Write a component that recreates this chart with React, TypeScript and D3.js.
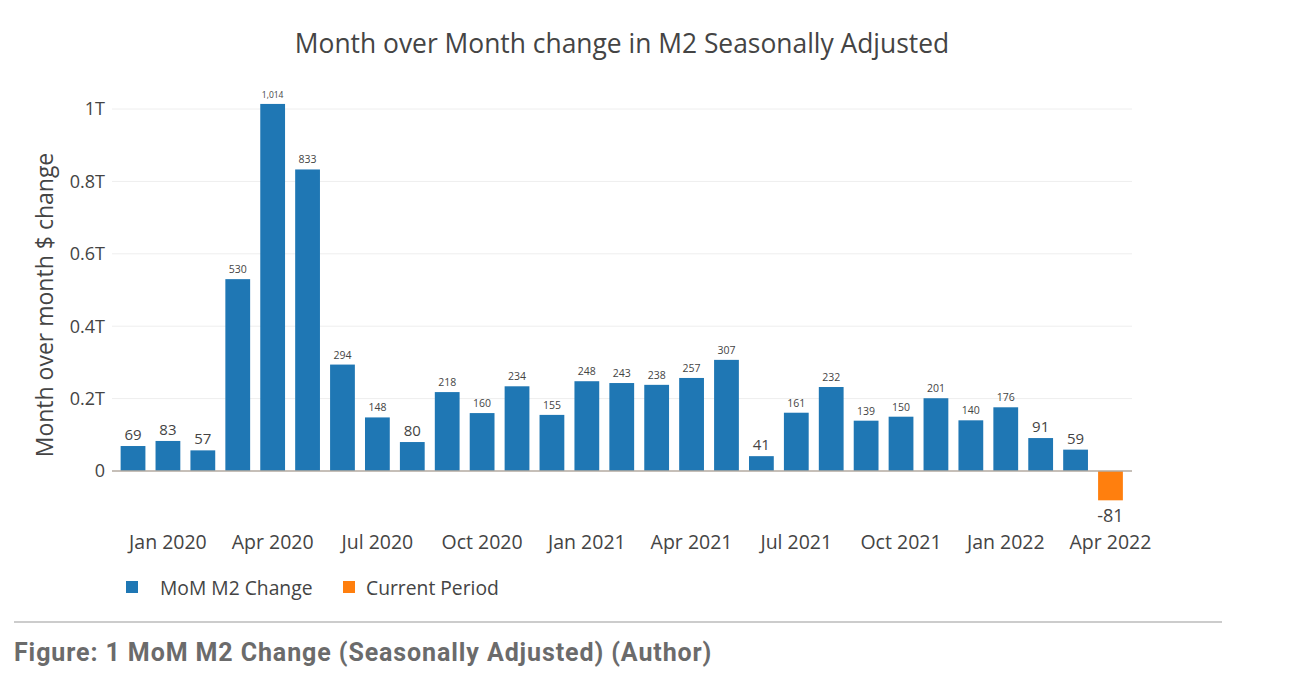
import * as React from 'react';
import * as d3 from 'd3';

// month-over-month change in M2, billions of dollars
const months = [
  '2019-12', '2020-01', '2020-02', '2020-03', '2020-04', '2020-05', '2020-06',
  '2020-07', '2020-08', '2020-09', '2020-10', '2020-11', '2020-12', '2021-01',
  '2021-02', '2021-03', '2021-04', '2021-05', '2021-06', '2021-07', '2021-08',
  '2021-09', '2021-10', '2021-11', '2021-12', '2022-01', '2022-02', '2022-03',
  '2022-04'
];
const momChange = [
  69, 83, 57, 530, 1014, 833, 294, 148, 80, 218, 160, 234, 155, 248, 243, 238,
  257, 307, 41, 161, 232, 139, 150, 201, 140, 176, 91, 59, -81
];
const currentPeriod = ['2022-04'];
const yTicks = [0, 200, 400, 600, 800, 1000];
const yTickLabels = ['0', '0.2T', '0.4T', '0.6T', '0.8T', '1T'];
const xTickMonths = [
  '2020-01', '2020-04', '2020-07', '2020-10', '2021-01', '2021-04',
  '2021-07', '2021-10', '2022-01', '2022-04'
];
const seriesNames = ['MoM M2 Change', 'Current Period'];

const BLUE = '#1f77b4';
const ORANGE = '#ff7f0e';
const FONT = '"Open Sans", sans-serif';

export default function App() {
  const width = 1290;
  const height = 686;

  const x = d3.scaleBand<string>().domain(months).range([110.5, 1133]).padding(0.29);
  const y = d3.scaleLinear().domain([0, 1000]).range([471, 109]);
  const fmtNum = (v: number) => d3.format(',')(v).replace('\u2212', '-');
  const fmtMonth = (m: string) => d3.timeFormat('%b %Y')(d3.timeParse('%Y-%m')(m) as Date);

  // plotly shrinks outside labels to the bar width
  const labelSize = (txt: string, v: number) => {
    if (v < 0) return 18;
    if (txt.length <= 2) return 15;
    if (txt.length === 3) return 10.5;
    return 8.5;
  };

  return (
    <svg width={width} height={height} style={{ position: 'absolute', left: 0, top: 0, background: '#fff' }}
      fontFamily={FONT}>
      <rect width={width} height={height} fill="#fff" />
      <text x={622} y={53} textAnchor="middle" fontSize={26.4} fill="#444">
        Month over Month change in M2 Seasonally Adjusted
      </text>

      {yTicks.map((t, i) => (
        <g key={t}>
          {t !== 0 && (
            <line x1={112} x2={1132} y1={y(t)} y2={y(t)} stroke="#eeeeee" strokeWidth={1} />
          )}
          <text x={105} y={y(t)} dy="0.35em" textAnchor="end" fontSize={18} fill="#444">
            {yTickLabels[i]}
          </text>
        </g>
      ))}

      <text transform={`translate(53, 305) rotate(-90)`} textAnchor="middle" fontSize={23} fill="#444">
        Month over month $ change
      </text>

      {months.map((m, i) => {
        const v = momChange[i];
        const cur = currentPeriod.includes(m);
        const bx = x(m) as number;
        const top = Math.min(y(v), y(0));
        const h = Math.abs(y(v) - y(0));
        const txt = fmtNum(v);
        const fs = labelSize(txt, v);
        return (
          <g key={m}>
            <rect x={bx} y={top} width={x.bandwidth()} height={h} fill={cur ? ORANGE : BLUE} />
            <text x={bx + x.bandwidth() / 2} y={v >= 0 ? y(v) - 6 : y(v) + 22}
              textAnchor="middle" fontSize={fs} fill="#444">
              {txt}
            </text>
          </g>
        );
      })}

      <line x1={112} x2={1132} y1={y(0)} y2={y(0)} stroke="#b3aaa0" strokeWidth={1.5} />

      {xTickMonths.map(m => (
        <text key={m} x={(x(m) as number) + x.bandwidth() / 2} y={549} textAnchor="middle"
          fontSize={19.5} fill="#444">
          {fmtMonth(m)}
        </text>
      ))}

      <g>
        <rect x={126} y={581} width={12} height={12} fill={BLUE} />
        <text x={160} y={595} fontSize={19.3} fill="#444">{seriesNames[0]}</text>
        <rect x={343} y={581} width={12} height={12} fill={ORANGE} />
        <text x={366} y={595} fontSize={19.3} fill="#444">{seriesNames[1]}</text>
      </g>

      <line x1={14} x2={1222} y1={622} y2={622} stroke="#999" strokeWidth={1} />
      <text x={14} y={661} fontFamily="Roboto, sans-serif" fontWeight="bold" fontSize={25}
        letterSpacing={0.9} fill="#6b6b6b">
        Figure: 1 MoM M2 Change (Seasonally Adjusted) (Author)
      </text>
    </svg>
  );
}
